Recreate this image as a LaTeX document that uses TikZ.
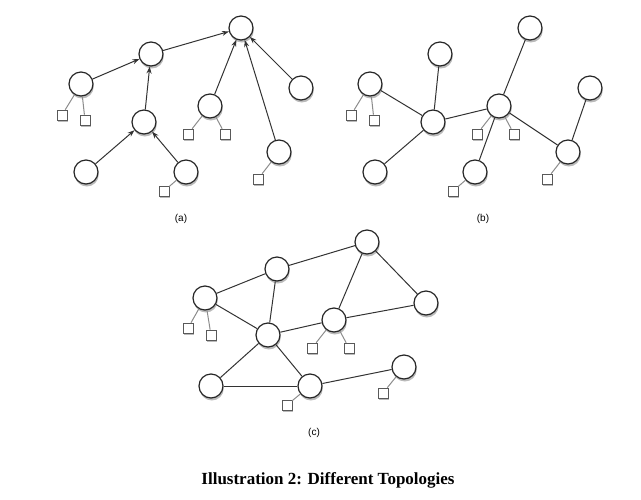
\documentclass[tikz,border=0pt]{standalone}
\usepackage{fontspec}
\setmainfont{Liberation Serif}
\setsansfont{Liberation Sans}
\usetikzlibrary{arrows.meta,shadows}

\begin{document}
\begin{tikzpicture}[x=1pt,y=-1pt,
  peer/.style={circle,draw=black!85,line width=1.2pt,fill=white,minimum size=24pt,inner sep=0pt,
    drop shadow={shadow xshift=0.8pt,shadow yshift=-2.5pt,fill=black!60,opacity=0.45}},
  leaf/.style={rectangle,draw=black!65,line width=0.6pt,fill=white,minimum size=10pt,inner sep=0pt,
    drop shadow={shadow xshift=0.6pt,shadow yshift=-1.8pt,fill=black!60,opacity=0.45}},
  link/.style={black!80,line width=1pt},
  uplink/.style={link,-{Stealth[length=7pt,width=5pt]}},
  leaflink/.style={black!45,line width=1pt},
  sublabel/.style={font=\sffamily\fontsize{10}{11}\selectfont}]
\useasboundingbox (0,0) rectangle (641,499);

% (a) tree, links point to the root
\begin{scope}[shift={(0,0)}]
\foreach \n/\x/\y in {a1/241/28,a2/151/54,a3/81/84,a4/144/122,a5/86/172,
                      a6/186/172,a7/210/106,a8/301/88,a9/279/152}
  \node[peer] (\n) at (\x,\y) {};
\foreach \n/\x/\y in {as1/62/115,as2/85/120,as3/188/134,as4/225/134,as5/164/191,as6/258/179}
  \node[leaf] (\n) at (\x,\y) {};
\foreach \from/\to in {a3/a2,a2/a1,a4/a2,a5/a4,a6/a4,a7/a1,a9/a1,a8/a1}
  \draw[uplink] (\from) -- (\to);
\foreach \s/\p in {as1/a3,as2/a3,as3/a7,as4/a7,as5/a6,as6/a9}
  \draw[leaflink] (\s) -- (\p);
\node[sublabel] (alabel) at (181,219) {(a)};
\end{scope}

% (b) same peers, undirected
\begin{scope}[shift={(289,0)}]
\foreach \n/\x/\y in {b1/241/28,b2/151/54,b3/81/84,b4/144/122,b5/86/172,
                      b6/186/172,b7/210/106,b8/301/88,b9/279/152}
  \node[peer] (\n) at (\x,\y) {};
\foreach \n/\x/\y in {bs1/62/115,bs2/85/120,bs3/188/134,bs4/225/134,bs5/164/191,bs6/258/179}
  \node[leaf] (\n) at (\x,\y) {};
\foreach \from/\to in {b3/b4,b2/b4,b5/b4,b4/b7,b7/b1,b7/b6,b7/b9,b8/b9}
  \draw[link] (\from) -- (\to);
\foreach \s/\p in {bs1/b3,bs2/b3,bs3/b7,bs4/b7,bs5/b6,bs6/b9}
  \draw[leaflink] (\s) -- (\p);
\node[sublabel] (blabel) at (194,219) {(b)};
\end{scope}

% (c) mesh
\begin{scope}[shift={(0,0)}]
\foreach \n/\x/\y in {c1/205/298,c2/277/269,c3/367/242,c4/426/303,c5/334/320,
                      c6/268/335,c7/211/386,c8/310/386,c9/404/367}
  \node[peer] (\n) at (\x,\y) {};
\foreach \n/\x/\y in {cs1/188/328,cs2/211/335,cs3/312/348,cs4/349/348,cs5/287/405,cs6/383/393}
  \node[leaf] (\n) at (\x,\y) {};
\foreach \from/\to in {c1/c2,c2/c3,c1/c6,c2/c6,c3/c5,c3/c4,c6/c5,c5/c4,c6/c7,c6/c8,c7/c8,c8/c9}
  \draw[link] (\from) -- (\to);
\foreach \s/\p in {cs1/c1,cs2/c1,cs3/c5,cs4/c5,cs5/c8,cs6/c9}
  \draw[leaflink] (\s) -- (\p);
\node[sublabel] (clabel) at (314,433) {(c)};
\end{scope}

\node[font=\bfseries\fontsize{17}{20}\selectfont,anchor=base] (caption) at (328,484)
  {Illustration 2: Different Topologies};
\end{tikzpicture}
\end{document}
